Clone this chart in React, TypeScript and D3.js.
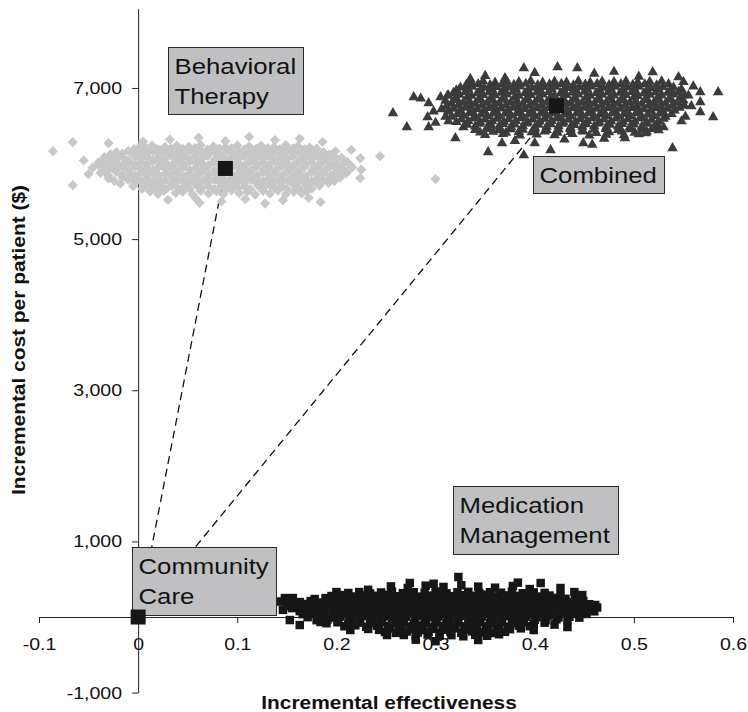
import React, { useEffect, useRef } from "react";
import * as d3 from "d3";

// axis ticks
const xTicks = [-0.1, 0, 0.1, 0.2, 0.3, 0.4, 0.5, 0.6];
const xTickLabels = ["-0.1", "0", "0.1", "0.2", "0.3", "0.4", "0.5", "0.6"];
const yTicks = [-1000, 1000, 3000, 5000, 7000];
const yTickLabels = ["-1,000", "1,000", "3,000", "5,000", "7,000"];

// mean incremental effectiveness / cost for each strategy
const strategies = ["Community Care", "Behavioral Therapy", "Combined", "Medication Management"];
const meanEffect = [0, 0.088, 0.422, 0.31];
const meanCost = [0, 5935, 6765, 90];

// bootstrap replicates [effectiveness, cost]
const behavioralTherapy: [number, number][] = [
  [0.032, 6318], [0.061, 6342], [0.088, 6296], [0.112, 6355], [0.138, 6310], [0.163, 6330], [0.005, 6290], [0.186, 6285],
  [0.002, 6225], [0.014, 6240], [0.027, 6218], [0.039, 6236], [0.051, 6222], [0.063, 6245], [0.076, 6228], [0.088, 6214],
  [0.1, 6240], [0.112, 6226], [0.124, 6238], [0.137, 6219], [0.149, 6244], [0.161, 6230], [0.173, 6212],
  [-0.004, 6190], [0.008, 6202], [0.02, 6188], [0.033, 6199], [0.045, 6193], [0.057, 6205], [0.07, 6187], [0.082, 6197],
  [0.094, 6203], [0.107, 6186], [0.119, 6196], [0.131, 6204], [0.143, 6189], [0.156, 6200], [0.168, 6192], [0.18, 6198],
  [-0.022, 6150], [-0.01, 6168], [0.003, 6155], [0.015, 6172], [0.027, 6158], [0.04, 6149], [0.052, 6170], [0.064, 6161],
  [0.077, 6152], [0.089, 6174], [0.101, 6158], [0.113, 6147], [0.126, 6166], [0.138, 6160], [0.15, 6171], [0.162, 6153],
  [0.175, 6165], [0.187, 6148], [0.199, 6162],
  [-0.028, 6120], [-0.016, 6132], [-0.004, 6118], [0.009, 6129], [0.021, 6123], [0.033, 6135], [0.046, 6117], [0.058, 6127],
  [0.07, 6133], [0.083, 6116], [0.095, 6126], [0.107, 6134], [0.12, 6119], [0.132, 6130], [0.144, 6122], [0.156, 6128],
  [0.169, 6115], [0.181, 6131], [0.193, 6121],
  [-0.034, 6085], [-0.028, 6100], [-0.016, 6082], [-0.003, 6096], [0.009, 6088], [0.021, 6079], [0.034, 6098], [0.046, 6090],
  [0.058, 6083], [0.07, 6101], [0.083, 6092], [0.095, 6080], [0.107, 6095], [0.119, 6087], [0.132, 6099], [0.144, 6084],
  [0.156, 6093], [0.168, 6081], [0.181, 6097], [0.193, 6089], [0.205, 6078],
  [-0.035, 6050], [-0.022, 6062], [-0.01, 6048], [0.003, 6059], [0.015, 6053], [0.027, 6065], [0.04, 6047], [0.052, 6057],
  [0.064, 6063], [0.077, 6046], [0.089, 6056], [0.101, 6064], [0.114, 6049], [0.126, 6060], [0.138, 6052], [0.15, 6058],
  [0.163, 6045], [0.175, 6061], [0.187, 6051], [0.2, 6063],
  [-0.04, 6015], [-0.028, 6028], [-0.022, 6010], [-0.009, 6024], [0.003, 6018], [0.015, 6030], [0.028, 6012], [0.04, 6022],
  [0.052, 6027], [0.064, 6011], [0.077, 6020], [0.089, 6031], [0.101, 6014], [0.113, 6025], [0.126, 6017], [0.138, 6029],
  [0.15, 6013], [0.162, 6023], [0.175, 6019], [0.187, 6028], [0.199, 6010], [0.211, 6021],
  [-0.04, 5980], [-0.028, 5992], [-0.015, 5978], [-0.003, 5989], [0.009, 5983], [0.022, 5995], [0.034, 5977], [0.046, 5987],
  [0.059, 5993], [0.071, 5976], [0.083, 5986], [0.095, 5994], [0.108, 5979], [0.12, 5990], [0.132, 5982], [0.145, 5988],
  [0.157, 5975], [0.169, 5991], [0.182, 5981], [0.194, 5993], [0.206, 5984],
  [-0.046, 5945], [-0.034, 5958], [-0.028, 5940], [-0.015, 5952], [-0.003, 5961], [0.009, 5944], [0.021, 5955], [0.034, 5948],
  [0.046, 5960], [0.058, 5942], [0.07, 5953], [0.083, 5946], [0.095, 5959], [0.107, 5941], [0.119, 5954], [0.132, 5947],
  [0.144, 5962], [0.156, 5943], [0.168, 5956], [0.181, 5949], [0.193, 5958], [0.205, 5944], [0.216, 5952],
  [-0.034, 5910], [-0.022, 5922], [-0.009, 5908], [0.003, 5919], [0.015, 5913], [0.028, 5925], [0.04, 5907], [0.052, 5917],
  [0.065, 5923], [0.077, 5906], [0.089, 5916], [0.102, 5924], [0.114, 5909], [0.126, 5920], [0.139, 5912], [0.151, 5918],
  [0.163, 5905], [0.176, 5921], [0.188, 5911], [0.2, 5923], [0.212, 5914],
  [-0.038, 5875], [-0.022, 5888], [-0.009, 5872], [0.003, 5884], [0.015, 5890], [0.028, 5874], [0.04, 5882], [0.052, 5871],
  [0.064, 5889], [0.077, 5878], [0.089, 5886], [0.101, 5873], [0.113, 5881], [0.126, 5891], [0.138, 5876], [0.15, 5885],
  [0.162, 5870], [0.175, 5887], [0.187, 5879], [0.199, 5884], [0.21, 5872],
  [-0.03, 5840], [-0.016, 5852], [-0.003, 5838], [0.009, 5849], [0.021, 5843], [0.034, 5855], [0.046, 5837], [0.058, 5847],
  [0.071, 5853], [0.083, 5836], [0.095, 5846], [0.108, 5854], [0.12, 5839], [0.132, 5850], [0.145, 5842], [0.157, 5848],
  [0.169, 5835], [0.182, 5851], [0.194, 5841], [0.205, 5853],
  [-0.03, 5805], [-0.016, 5818], [-0.003, 5802], [0.009, 5814], [0.021, 5808], [0.034, 5820], [0.046, 5803], [0.058, 5812],
  [0.07, 5817], [0.083, 5801], [0.095, 5811], [0.107, 5819], [0.119, 5804], [0.132, 5815], [0.144, 5807], [0.156, 5816],
  [0.168, 5800], [0.181, 5813], [0.193, 5806], [0.204, 5818],
  [-0.024, 5770], [-0.01, 5782], [0.003, 5768], [0.015, 5779], [0.027, 5773], [0.04, 5785], [0.052, 5767], [0.064, 5777],
  [0.077, 5783], [0.089, 5766], [0.101, 5776], [0.114, 5784], [0.126, 5769], [0.138, 5780], [0.151, 5772], [0.163, 5778],
  [0.175, 5765], [0.187, 5781], [0.198, 5771],
  [-0.018, 5735], [-0.003, 5748], [0.009, 5732], [0.021, 5745], [0.034, 5738], [0.046, 5750], [0.058, 5733], [0.07, 5742],
  [0.083, 5747], [0.095, 5731], [0.107, 5741], [0.119, 5749], [0.132, 5734], [0.144, 5746], [0.156, 5737], [0.168, 5744],
  [0.181, 5730], [0.192, 5743],
  [-0.005, 5700], [0.01, 5712], [0.022, 5698], [0.034, 5709], [0.047, 5703], [0.059, 5715], [0.071, 5697], [0.084, 5707],
  [0.096, 5713], [0.108, 5696], [0.121, 5706], [0.133, 5714], [0.145, 5699], [0.158, 5710], [0.17, 5702], [0.183, 5708],
  [0.004, 5665], [0.016, 5678], [0.028, 5662], [0.04, 5675], [0.052, 5668], [0.064, 5680], [0.077, 5663], [0.089, 5672],
  [0.101, 5677], [0.113, 5661], [0.126, 5671], [0.138, 5679], [0.15, 5664], [0.162, 5674], [0.175, 5667],
  [0.012, 5630], [0.026, 5642], [0.045, 5628], [0.063, 5639], [0.079, 5633], [0.094, 5645], [0.11, 5627], [0.126, 5637],
  [0.141, 5643], [0.157, 5626], [0.17, 5636],
  [0.02, 5598], [0.038, 5610], [0.055, 5592], [0.071, 5605], [0.086, 5596], [0.102, 5608], [0.118, 5590], [0.133, 5603],
  [0.149, 5595], [0.165, 5606],
  [0.03, 5520], [0.058, 5540], [0.084, 5498], [0.108, 5530], [0.128, 5470], [0.146, 5515], [0.172, 5545], [0.062, 5480],
  [-0.086, 6164], [-0.066, 6283], [-0.066, 5714], [-0.03, 6270], [-0.055, 6040], [-0.05, 5860], [0.224, 6071], [0.244, 6098],
  [0.224, 5807], [0.3, 5794], [0.225, 5920], [0.184, 5490], [0.215, 6180],
];

const combined: [number, number][] = [
  [0.389, 7262], [0.423, 7275], [0.443, 7262], [0.519, 7209], [0.545, 7143], [0.4, 7200], [0.46, 7190], [0.35, 7160],
  [0.48, 7215], [0.37, 7130], [0.505, 7150], [0.335, 7120],
  [0.336, 7075], [0.348, 7088], [0.36, 7070], [0.372, 7084], [0.384, 7078], [0.396, 7091], [0.408, 7072], [0.42, 7083],
  [0.432, 7076], [0.444, 7090], [0.456, 7071], [0.468, 7085], [0.48, 7079], [0.492, 7087], [0.504, 7073], [0.516, 7082], [0.528, 7089],
  [0.331, 7040], [0.343, 7052], [0.355, 7038], [0.367, 7049], [0.379, 7043], [0.391, 7055], [0.403, 7037], [0.415, 7047],
  [0.427, 7053], [0.439, 7036], [0.451, 7046], [0.463, 7054], [0.475, 7039], [0.487, 7050], [0.499, 7042], [0.511, 7048],
  [0.523, 7035], [0.535, 7051],
  [0.325, 7005], [0.337, 7018], [0.349, 7002], [0.361, 7014], [0.373, 7008], [0.385, 7020], [0.397, 7003], [0.409, 7012],
  [0.421, 7017], [0.433, 7001], [0.445, 7011], [0.457, 7019], [0.469, 7004], [0.481, 7015], [0.493, 7007], [0.505, 7016],
  [0.517, 7000], [0.529, 7013], [0.54, 7006],
  [0.321, 6970], [0.333, 6982], [0.345, 6968], [0.357, 6979], [0.369, 6973], [0.381, 6985], [0.393, 6967], [0.405, 6977],
  [0.417, 6983], [0.429, 6966], [0.441, 6976], [0.453, 6984], [0.465, 6969], [0.477, 6980], [0.489, 6972], [0.501, 6978],
  [0.513, 6965], [0.525, 6981], [0.537, 6971], [0.548, 6983],
  [0.318, 6935], [0.33, 6948], [0.342, 6932], [0.354, 6944], [0.366, 6938], [0.378, 6950], [0.39, 6933], [0.402, 6942],
  [0.414, 6947], [0.426, 6931], [0.438, 6941], [0.45, 6949], [0.462, 6934], [0.474, 6945], [0.486, 6937], [0.498, 6946],
  [0.51, 6930], [0.522, 6943], [0.534, 6936], [0.545, 6948],
  [0.312, 6900], [0.324, 6912], [0.336, 6898], [0.348, 6909], [0.36, 6903], [0.372, 6915], [0.384, 6897], [0.396, 6907],
  [0.408, 6913], [0.42, 6896], [0.432, 6906], [0.444, 6914], [0.456, 6899], [0.468, 6910], [0.48, 6902], [0.492, 6908],
  [0.504, 6895], [0.516, 6911], [0.528, 6901], [0.54, 6913], [0.551, 6904],
  [0.32, 6865], [0.332, 6878], [0.344, 6862], [0.356, 6874], [0.368, 6868], [0.38, 6880], [0.392, 6863], [0.404, 6872],
  [0.416, 6877], [0.428, 6861], [0.44, 6871], [0.452, 6879], [0.464, 6864], [0.476, 6875], [0.488, 6867], [0.5, 6876],
  [0.512, 6860], [0.524, 6873], [0.536, 6866], [0.547, 6878],
  [0.31, 6830], [0.322, 6842], [0.334, 6828], [0.346, 6839], [0.358, 6833], [0.37, 6845], [0.382, 6827], [0.394, 6837],
  [0.406, 6843], [0.418, 6826], [0.43, 6836], [0.442, 6844], [0.454, 6829], [0.466, 6840], [0.478, 6832], [0.49, 6838],
  [0.502, 6825], [0.514, 6841], [0.526, 6831], [0.538, 6843], [0.55, 6834],
  [0.316, 6795], [0.328, 6808], [0.34, 6792], [0.352, 6804], [0.364, 6798], [0.376, 6810], [0.388, 6793], [0.4, 6802],
  [0.412, 6807], [0.424, 6791], [0.436, 6801], [0.448, 6809], [0.46, 6794], [0.472, 6805], [0.484, 6797], [0.496, 6806],
  [0.508, 6790], [0.52, 6803], [0.532, 6796], [0.544, 6808],
  [0.311, 6760], [0.323, 6772], [0.335, 6758], [0.347, 6769], [0.359, 6763], [0.371, 6775], [0.383, 6757], [0.395, 6767],
  [0.407, 6773], [0.419, 6756], [0.431, 6766], [0.443, 6774], [0.455, 6759], [0.467, 6770], [0.479, 6762], [0.491, 6768],
  [0.503, 6755], [0.515, 6771], [0.527, 6761], [0.539, 6773], [0.551, 6764],
  [0.318, 6725], [0.33, 6738], [0.342, 6722], [0.354, 6734], [0.366, 6728], [0.378, 6740], [0.39, 6723], [0.402, 6732],
  [0.414, 6737], [0.426, 6721], [0.438, 6731], [0.45, 6739], [0.462, 6724], [0.474, 6735], [0.486, 6727], [0.498, 6736],
  [0.51, 6720], [0.522, 6733], [0.534, 6726], [0.546, 6738],
  [0.313, 6690], [0.325, 6702], [0.337, 6688], [0.349, 6699], [0.361, 6693], [0.373, 6705], [0.385, 6687], [0.397, 6697],
  [0.409, 6703], [0.421, 6686], [0.433, 6696], [0.445, 6704], [0.457, 6689], [0.469, 6700], [0.481, 6692], [0.493, 6698],
  [0.505, 6685], [0.517, 6701], [0.529, 6691], [0.541, 6703],
  [0.322, 6655], [0.334, 6668], [0.346, 6652], [0.358, 6664], [0.37, 6658], [0.382, 6670], [0.394, 6653], [0.406, 6662],
  [0.418, 6667], [0.43, 6651], [0.442, 6661], [0.454, 6669], [0.466, 6654], [0.478, 6665], [0.49, 6657], [0.502, 6666],
  [0.514, 6650], [0.526, 6663], [0.538, 6656],
  [0.316, 6620], [0.328, 6632], [0.34, 6618], [0.352, 6629], [0.364, 6623], [0.376, 6635], [0.388, 6617], [0.4, 6627],
  [0.412, 6633], [0.424, 6616], [0.436, 6626], [0.448, 6634], [0.46, 6619], [0.472, 6630], [0.484, 6622], [0.496, 6628],
  [0.508, 6615], [0.52, 6631], [0.532, 6621],
  [0.326, 6585], [0.338, 6598], [0.35, 6582], [0.362, 6594], [0.374, 6588], [0.386, 6600], [0.398, 6583], [0.41, 6592],
  [0.422, 6597], [0.434, 6581], [0.446, 6591], [0.458, 6599], [0.47, 6584], [0.482, 6595], [0.494, 6587], [0.506, 6596],
  [0.518, 6580], [0.53, 6593],
  [0.321, 6550], [0.333, 6562], [0.345, 6548], [0.357, 6559], [0.369, 6553], [0.381, 6565], [0.393, 6547], [0.405, 6557],
  [0.417, 6563], [0.429, 6546], [0.441, 6556], [0.453, 6564], [0.465, 6549], [0.477, 6560], [0.489, 6552], [0.501, 6558],
  [0.513, 6545], [0.525, 6561],
  [0.332, 6515], [0.344, 6528], [0.356, 6512], [0.368, 6524], [0.38, 6518], [0.392, 6530], [0.404, 6513], [0.416, 6522],
  [0.428, 6527], [0.44, 6511], [0.452, 6521], [0.464, 6529], [0.476, 6514], [0.488, 6525], [0.5, 6517], [0.512, 6526], [0.524, 6510],
  [0.328, 6480], [0.34, 6492], [0.352, 6478], [0.364, 6489], [0.376, 6483], [0.388, 6495], [0.4, 6477], [0.412, 6487],
  [0.424, 6493], [0.436, 6476], [0.448, 6486], [0.46, 6494], [0.472, 6479], [0.484, 6490], [0.496, 6482], [0.508, 6488], [0.52, 6475],
  [0.34, 6445], [0.352, 6458], [0.364, 6442], [0.376, 6454], [0.388, 6448], [0.4, 6460], [0.412, 6443], [0.424, 6452],
  [0.436, 6457], [0.448, 6441], [0.46, 6451], [0.472, 6459], [0.484, 6444], [0.496, 6455], [0.508, 6447], [0.518, 6456],
  [0.345, 6410], [0.358, 6422], [0.371, 6408], [0.384, 6419], [0.397, 6413], [0.41, 6425], [0.423, 6407], [0.436, 6417],
  [0.449, 6423], [0.462, 6406], [0.475, 6416], [0.488, 6424], [0.501, 6409], [0.513, 6420],
  [0.35, 6378], [0.368, 6390], [0.385, 6372], [0.402, 6385], [0.42, 6376], [0.438, 6392], [0.455, 6370], [0.472, 6383],
  [0.49, 6374], [0.505, 6388],
  [0.257, 6667], [0.271, 6481], [0.278, 6878], [0.285, 6860], [0.293, 6799], [0.292, 6614], [0.293, 6481], [0.305, 6878],
  [0.3, 6540], [0.313, 6900], [0.313, 6700], [0.313, 6560], [0.32, 6336], [0.306, 6720], [0.298, 6690], [0.31, 6620],
  [0.567, 6944], [0.567, 6812], [0.567, 6680], [0.58, 6614], [0.585, 6944], [0.555, 6900], [0.558, 6760], [0.552, 6620],
  [0.56, 7020], [0.548, 6560], [0.55, 7080],
  [0.353, 6151], [0.367, 6270], [0.389, 6111], [0.416, 6177], [0.4, 6270], [0.449, 6270], [0.458, 6250], [0.491, 6336],
  [0.512, 6402], [0.525, 6440], [0.53, 6480], [0.539, 6204], [0.38, 6300], [0.43, 6320], [0.47, 6330],
];

const medicationManagement: [number, number][] = [
  [0.255, 405], [0.272, 385], [0.29, 415], [0.308, 398], [0.326, 420], [0.343, 402], [0.36, 388], [0.378, 410], [0.232, 360], [0.395, 370],
  [0.212, 318], [0.223, 330], [0.234, 312], [0.245, 325], [0.256, 335], [0.267, 316], [0.278, 328], [0.289, 320], [0.3, 338],
  [0.311, 314], [0.322, 327], [0.333, 333], [0.344, 317], [0.355, 329], [0.366, 322], [0.377, 336], [0.388, 315], [0.399, 326], [0.41, 319],
  [0.195, 278], [0.206, 290], [0.217, 272], [0.228, 285], [0.239, 280], [0.25, 294], [0.261, 275], [0.272, 288], [0.283, 270],
  [0.294, 283], [0.305, 291], [0.316, 276], [0.327, 289], [0.338, 281], [0.349, 295], [0.36, 273], [0.371, 286], [0.382, 279],
  [0.393, 292], [0.404, 271], [0.415, 284], [0.426, 277],
  [0.178, 238], [0.189, 250], [0.2, 232], [0.211, 246], [0.222, 240], [0.233, 255], [0.244, 236], [0.255, 248], [0.266, 230],
  [0.277, 244], [0.288, 252], [0.299, 235], [0.31, 247], [0.321, 239], [0.332, 256], [0.343, 233], [0.354, 245], [0.365, 251],
  [0.376, 237], [0.387, 249], [0.398, 242], [0.409, 234], [0.42, 253], [0.431, 241], [0.441, 232],
  [0.163, 198], [0.174, 210], [0.185, 192], [0.196, 205], [0.207, 200], [0.218, 214], [0.229, 195], [0.24, 208], [0.251, 190],
  [0.262, 203], [0.273, 211], [0.284, 196], [0.295, 209], [0.306, 201], [0.317, 215], [0.328, 193], [0.339, 206], [0.35, 199],
  [0.361, 212], [0.372, 191], [0.383, 204], [0.394, 197], [0.405, 210], [0.416, 194], [0.427, 207], [0.438, 202], [0.449, 213],
  [0.158, 160], [0.169, 172], [0.18, 154], [0.191, 166], [0.202, 158], [0.213, 175], [0.224, 152], [0.235, 168], [0.246, 161],
  [0.257, 173], [0.268, 155], [0.279, 167], [0.29, 150], [0.301, 164], [0.312, 176], [0.323, 157], [0.334, 169], [0.345, 162],
  [0.356, 174], [0.367, 153], [0.378, 165], [0.389, 159], [0.4, 171], [0.411, 156], [0.422, 168], [0.433, 151], [0.444, 163], [0.455, 170],
  [0.155, 118], [0.166, 130], [0.177, 112], [0.188, 125], [0.199, 120], [0.21, 134], [0.221, 115], [0.232, 128], [0.243, 110],
  [0.254, 123], [0.265, 131], [0.276, 116], [0.287, 129], [0.298, 121], [0.309, 135], [0.32, 113], [0.331, 126], [0.342, 119],
  [0.353, 132], [0.364, 111], [0.375, 124], [0.386, 117], [0.397, 130], [0.408, 114], [0.419, 127], [0.43, 122], [0.441, 133],
  [0.452, 115], [0.463, 126],
  [0.163, 78], [0.174, 90], [0.185, 72], [0.196, 86], [0.207, 80], [0.218, 94], [0.229, 75], [0.24, 88], [0.251, 70], [0.262, 84],
  [0.273, 92], [0.284, 76], [0.295, 89], [0.306, 81], [0.317, 95], [0.328, 73], [0.339, 87], [0.35, 79], [0.361, 93], [0.372, 71],
  [0.383, 85], [0.394, 77], [0.405, 91], [0.416, 74], [0.427, 86], [0.438, 80], [0.449, 92], [0.46, 75],
  [0.166, 38], [0.177, 50], [0.188, 32], [0.199, 45], [0.21, 40], [0.221, 54], [0.232, 35], [0.243, 48], [0.254, 30], [0.265, 43],
  [0.276, 51], [0.287, 36], [0.298, 49], [0.309, 41], [0.32, 55], [0.331, 33], [0.342, 46], [0.353, 39], [0.364, 52], [0.375, 31],
  [0.386, 44], [0.397, 37], [0.408, 50], [0.419, 34], [0.43, 47], [0.441, 42], [0.452, 53],
  [0.171, -2], [0.182, 10], [0.193, -8], [0.204, 6], [0.215, 0], [0.226, 14], [0.237, -5], [0.248, 8], [0.259, -10], [0.27, 4],
  [0.281, 12], [0.292, -4], [0.303, 9], [0.314, 1], [0.325, 15], [0.336, -7], [0.347, 7], [0.358, -1], [0.369, 13], [0.38, -9],
  [0.391, 5], [0.402, -3], [0.413, 11], [0.424, -6], [0.435, 3], [0.445, -8],
  [0.18, -42], [0.191, -30], [0.202, -48], [0.213, -35], [0.224, -40], [0.235, -26], [0.246, -45], [0.257, -32], [0.268, -50],
  [0.279, -37], [0.29, -29], [0.301, -44], [0.312, -31], [0.323, -39], [0.334, -25], [0.345, -47], [0.356, -34], [0.367, -41],
  [0.378, -28], [0.389, -49], [0.4, -36], [0.411, -43], [0.422, -30], [0.433, -46],
  [0.19, -82], [0.201, -70], [0.212, -88], [0.223, -74], [0.234, -80], [0.245, -66], [0.256, -85], [0.267, -72], [0.278, -90],
  [0.289, -76], [0.3, -68], [0.311, -84], [0.322, -71], [0.333, -79], [0.344, -65], [0.355, -87], [0.366, -73], [0.377, -81],
  [0.388, -67], [0.399, -89], [0.41, -75],
  [0.208, -122], [0.219, -110], [0.23, -128], [0.241, -115], [0.252, -120], [0.263, -106], [0.274, -125], [0.285, -112],
  [0.296, -130], [0.307, -117], [0.318, -109], [0.329, -124], [0.34, -111], [0.351, -119], [0.362, -105], [0.373, -127],
  [0.384, -114], [0.395, -121],
  [0.232, -158], [0.243, -170], [0.254, -152], [0.265, -166], [0.276, -160], [0.287, -174], [0.298, -155], [0.309, -168],
  [0.32, -150], [0.331, -164], [0.342, -172], [0.353, -156], [0.364, -169], [0.375, -161], [0.386, -150],
  [0.249, -198], [0.26, -210], [0.271, -192], [0.282, -205], [0.293, -200], [0.304, -214], [0.315, -195], [0.326, -208],
  [0.337, -190], [0.348, -203], [0.359, -211], [0.37, -196],
  [0.268, -238], [0.28, -250], [0.292, -232], [0.304, -246], [0.316, -240], [0.328, -255], [0.34, -236], [0.352, -248], [0.364, -228],
  [0.323, 529], [0.406, 450], [0.274, 450], [0.298, 440], [0.383, 455], [0.426, 384], [0.448, 291], [0.461, 159], [0.452, 40],
  [0.433, -132], [0.343, -304], [0.399, -172], [0.251, -238], [0.214, -172], [0.184, -66], [0.163, -106], [0.148, 251],
  [0.156, 251], [0.15, 150], [0.153, -40], [0.142, 205], [0.146, 95], [0.3, -320], [0.28, -300], [0.42, -100], [0.2, 330], [0.44, 330],
];

// label boxes: top-left corner in data units, size in px
const labelBoxes = [
  { lines: ["Behavioral", "Therapy"], x: 0.03, y: 7541, w: 135, h: 67 },
  { lines: ["Combined"], x: 0.3985, y: 6100, w: 131, h: 37 },
  { lines: ["Medication", "Management"], x: 0.3175, y: 1733, w: 165, h: 68 },
  { lines: ["Community", "Care"], x: -0.0065, y: 926, w: 144, h: 68 },
];

const font = '"Liberation Sans", Arial, Helvetica, sans-serif';

const App = () => {
  const svgRef = useRef<SVGSVGElement>(null);

  useEffect(() => {
    const svg = d3.select(svgRef.current);
    svg.selectAll("*").remove();

    const x = d3.scaleLinear().domain([-0.1, 0.6]).range([39, 733]);
    const y = d3.scaleLinear().domain([-1000, 8050]).range([692.6, 8.6]);

    // axes
    const gx = svg
      .append("g")
      .attr("transform", `translate(0,${y(0)})`)
      .call(
        d3
          .axisBottom(x)
          .tickValues(xTicks)
          .tickFormat((d, i) => xTickLabels[i])
          .tickSize(6)
          .tickPadding(15)
          .tickSizeOuter(0)
      );
    const gy = svg
      .append("g")
      .attr("transform", `translate(${x(0)},0)`)
      .call(
        d3
          .axisLeft(y)
          .tickValues(yTicks)
          .tickFormat((d, i) => yTickLabels[i])
          .tickSize(6)
          .tickPadding(8)
          .tickSizeOuter(0)
      );
    [gx, gy].forEach((g) => {
      g.selectAll(".domain, line").attr("stroke", "#222");
      g.selectAll("text")
        .attr("font-family", font)
        .attr("font-size", 17)
        .attr("fill", "#111")
        .attr("transform", "scale(1.15,1)");
    });

    // axis titles
    svg.append("text")
      .attr("transform", "translate(389,709) scale(1.1,1)")
      .attr("text-anchor", "middle")
      .attr("font-family", font)
      .attr("font-weight", "bold")
      .attr("font-size", 19)
      .attr("fill", "#111")
      .text("Incremental effectiveness");
    svg.append("text")
      .attr("transform", "translate(25,340) rotate(-90) scale(1.1,1)")
      .attr("text-anchor", "middle")
      .attr("font-family", font)
      .attr("font-weight", "bold")
      .attr("font-size", 19)
      .attr("fill", "#111")
      .text("Incremental cost per patient ($)");

    // dashed lines from community care to the other strategies
    [1, 2].forEach((i) => {
      svg.append("line")
        .attr("x1", x(meanEffect[0]))
        .attr("y1", y(meanCost[0]))
        .attr("x2", x(meanEffect[i]))
        .attr("y2", y(meanCost[i]))
        .attr("stroke", "#111")
        .attr("stroke-width", 1.3)
        .attr("stroke-dasharray", "8,5");
    });

    const diamond = d3.symbol().type(d3.symbolSquare).size(52)();
    const triangle = d3.symbol().type(d3.symbolTriangle).size(48)();
    const square = d3.symbol().type(d3.symbolSquare).size(72)();
    const bigSquare = d3.symbol().type(d3.symbolSquare).size(225)();

    svg.append("g")
      .selectAll("path")
      .data(behavioralTherapy)
      .join("path")
      .attr("d", diamond)
      .attr("transform", (d) => `translate(${x(d[0])},${y(d[1])}) rotate(45)`)
      .attr("fill", "#c8c8ca");

    svg.append("g")
      .selectAll("path")
      .data(combined)
      .join("path")
      .attr("d", triangle)
      .attr("transform", (d) => `translate(${x(d[0])},${y(d[1])})`)
      .attr("fill", "#3b3b3b");

    svg.append("g")
      .selectAll("path")
      .data(medicationManagement)
      .join("path")
      .attr("d", square)
      .attr("transform", (d) => `translate(${x(d[0])},${y(d[1])})`)
      .attr("fill", "#161616");

    // label boxes
    labelBoxes.forEach((b) => {
      const bx = Math.round(x(b.x)) + 0.5;
      const by = Math.round(y(b.y)) + 0.5;
      svg.append("rect")
        .attr("x", bx)
        .attr("y", by)
        .attr("width", b.w)
        .attr("height", b.h)
        .attr("fill", "#c0c0c2")
        .attr("stroke", "#2a2a2a");
      b.lines.forEach((line, i) => {
        svg.append("text")
          .attr("transform", `translate(${bx + 6},${by + 26 + i * 30}) scale(1.12,1)`)
          .attr("font-family", font)
          .attr("font-size", 23)
          .attr("fill", "#111")
          .text(line);
      });
    });

    // strategy means
    svg.append("g")
      .selectAll("path")
      .data(strategies)
      .join("path")
      .attr("d", bigSquare)
      .attr("transform", (d, i) => `translate(${x(meanEffect[i])},${y(meanCost[i])})`)
      .attr("fill", "#161616");
  }, []);

  return (
    <div>
      <svg ref={svgRef} width={748} height={712} style={{ position: "absolute", left: 0, top: 0 }} />
    </div>
  );
};

export default App;
